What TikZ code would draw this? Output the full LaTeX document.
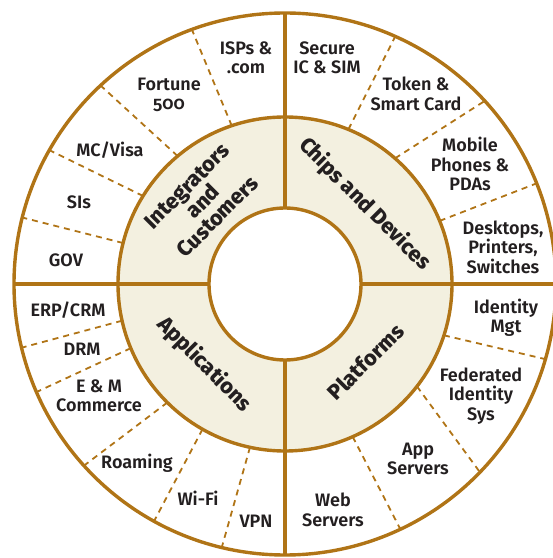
\documentclass[tikz,border=0pt]{standalone}
\usepackage{fontspec}
\setmainfont{Fira Sans}[UprightFont={* SemiBold}, BoldFont={* ExtraBold}, Numbers=OldStyle]
\usetikzlibrary{calc}
\definecolor{ringbrown}{RGB}{176,116,22}
\definecolor{ringfill}{RGB}{243,240,224}
\definecolor{ink}{RGB}{35,31,32}

\begin{document}
\begin{tikzpicture}[x=1pt,y=1pt,
  ring/.style={draw=ringbrown, line width=3.4pt},
  divider/.style={draw=ringbrown, line width=1.8pt, dash pattern=on 6pt off 5pt},
  leaf/.style={text=ink, font=\fontsize{18}{19.5}\selectfont, align=center, inner sep=0pt},
  sector/.style={text=ink, font=\fontsize{21.5}{21}\selectfont\bfseries, align=center, inner sep=0pt}]
\useasboundingbox (0,0) rectangle (553,558);
\coordinate (c) at (285,274);
\def\RingIn{76}
\def\RingMid{167}
\def\RingOut{271}

% beige band between the hub and the sector ring
\fill[ringfill, even odd rule] (c) circle[radius=\RingMid] (c) circle[radius=\RingIn];

% dashed dividers between the outer labels
\foreach \a/\b in {108.6/110.1, 130/132.9, 148.2/150.4, 165.8/165.8,
                   67.7/66.0, 48.8/42.5, 22.2/21.8,
                   192.7/193.6, 202.6/203.5, 225.2/222.1, 240.4/241.1, 257.9/256.5,
                   -17.9/-16.1, -37.8/-44.0, -66.1/-64.8}
  \draw[divider] ($(c)+(\a:\RingMid)$) -- ($(c)+(\b:\RingOut)$);

% quadrant axes from hub to rim
\foreach \a in {0,90,180,270}
  \draw[ring] ($(c)+(\a:\RingIn)$) -- ($(c)+(\a:\RingOut)$);

% the three circles
\draw[ring] (c) circle[radius=\RingIn];
\draw[ring] (c) circle[radius=\RingMid];
\draw[ring] (c) circle[radius=\RingOut];

% sector titles
\node[sector, rotate=45]  (integ) at ($(c)+(135:117)$) {Integrators\\and\\Customers};
\node[sector, rotate=-45] (chips) at ($(c)+(45:113)$) {Chips and Devices};
\node[sector, rotate=-45] (apps)  at ($(c)+(225:114)$) {Applications};
\node[sector, rotate=45]  (plat)  at ($(c)+(-44:112)$) {Platforms};

% Integrators and Customers
\node[leaf] (isp)  at (246,558-58)  {ISPs \&\\.com};
\node[leaf] (f500) at (169,558-95)  {Fortune\\500};
\node[leaf] (mc)   at (110,558-150) {MC/Visa};
\node[leaf] (sis)  at (79,558-202)  {SIs};
\node[leaf] (gov)  at (66,558-260)  {GOV};

% Chips and Devices
\node[leaf] (sec)  at (327,558-58)  {Secure\\IC \& SIM};
\node[leaf] (tok)  at (416,558-94)  {Token \&\\Smart Card};
\node[leaf] (mob)  at (470,558-164) {Mobile\\Phones \&\\PDAs};
\node[leaf] (desk) at (503,558-247) {Desktops,\\Printers,\\Switches};

% Applications
\node[leaf] (erp)  at (68,558-310)  {ERP/CRM};
\node[leaf] (drm)  at (82,558-349)  {DRM};
\node[leaf] (emc)  at (99,558-396)  {E \& M\\Commerce};
\node[leaf] (roam) at (137,558-463) {Roaming};
\node[leaf] (wifi) at (198,558-498) {Wi-Fi};
\node[leaf] (vpn)  at (256,558-521) {VPN};

% Platforms
\node[leaf] (idm)  at (506,558-318) {Identity\\Mgt};
\node[leaf] (fed)  at (481,558-396) {Federated\\Identity\\Sys};
\node[leaf] (app)  at (418,558-459) {App\\Servers};
\node[leaf] (web)  at (333,558-510) {Web\\Servers};
\end{tikzpicture}
\end{document}
